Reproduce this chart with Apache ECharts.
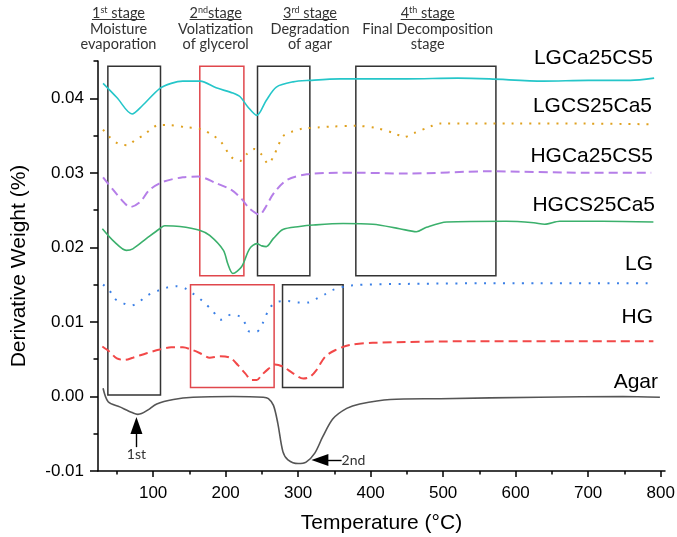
<!DOCTYPE html>
<html>
<head>
<meta charset="utf-8">
<script src="https://cdn.jsdelivr.net/npm/echarts@6/dist/echarts.min.js"></script>
<style>
  html, body { margin: 0; padding: 0; background: #fff; }
  #chart { width: 677px; height: 537px; }
</style>
</head>
<body>
<div id="chart"></div>
<script>
// DTG curves: [temperature (°C), derivative weight (%)]
const lgca25cs5 = [[31,0.0420],[50,0.0401],[71,0.0379],[85,0.0390],[109,0.0413],[125,0.0420],[141,0.0423],[165,0.0423],[187,0.0414],[210,0.0407],[220,0.0402],[231,0.0388],[243,0.0377],[256,0.0397],[270,0.0415],[293,0.0422],[316,0.0424],[358,0.0426],[450,0.0426],[520,0.0427],[564,0.0426],[638,0.0423],[700,0.0424],[758,0.0424],[791,0.0427]];
const lgcs25ca5 = [[31,0.0358],[40,0.0348],[52,0.0339],[65,0.0337],[75,0.0344],[86,0.0350],[108,0.0364],[121,0.0364],[146,0.0361],[165,0.0359],[183,0.0350],[194,0.0341],[208,0.0321],[220,0.0316],[229,0.0325],[240,0.0332],[250,0.0324],[259,0.0312],[266,0.0322],[272,0.0335],[279,0.0349],[291,0.0355],[305,0.0359],[330,0.0361],[344,0.0362],[380,0.0363],[408,0.0360],[433,0.0353],[446,0.0348],[459,0.0353],[482,0.0362],[495,0.0366],[600,0.0366],[700,0.0366],[791,0.0365]];
const hgca25cs5 = [[31,0.0294],[45,0.0277],[61,0.0259],[68,0.0254],[82,0.0261],[95,0.0277],[114,0.0288],[141,0.0294],[162,0.0295],[187,0.0286],[208,0.0277],[222,0.0265],[233,0.0252],[247,0.0244],[254,0.0252],[266,0.0272],[284,0.0290],[312,0.0298],[353,0.0300],[385,0.0300],[449,0.0299],[564,0.0302],[700,0.0300],[787,0.0300]];
const hgcs25ca5 = [[30,0.0225],[47,0.0207],[63,0.0196],[72,0.0198],[91,0.0212],[109,0.0225],[116,0.0229],[137,0.0228],[164,0.0223],[178,0.0216],[197,0.0196],[203,0.0178],[210,0.0165],[222,0.0174],[233,0.0198],[243,0.0205],[250,0.0202],[256,0.0201],[266,0.0212],[279,0.0224],[302,0.0228],[321,0.0230],[362,0.0232],[403,0.0231],[440,0.0225],[463,0.0221],[477,0.0227],[505,0.0234],[587,0.0235],[625,0.0233],[640,0.0231],[661,0.0235],[720,0.0235],[790,0.0234]];
const lg = [[31,0.0150],[40,0.0142],[47,0.0131],[59,0.0125],[70,0.0122],[82,0.0128],[93,0.0136],[107,0.0142],[119,0.0146],[132,0.0148],[144,0.0145],[155,0.0138],[167,0.0129],[181,0.0116],[194,0.0103],[208,0.0110],[220,0.0107],[227,0.0098],[233,0.0087],[243,0.0087],[251,0.0098],[261,0.0119],[272,0.0127],[286,0.0128],[300,0.0126],[314,0.0126],[325,0.0131],[337,0.0137],[348,0.0143],[374,0.0149],[450,0.0151],[600,0.0152],[787,0.0152]];
const hg = [[30,0.0067],[40,0.0060],[50,0.0051],[61,0.0049],[72,0.0052],[91,0.0058],[109,0.0063],[125,0.0066],[141,0.0066],[155,0.0062],[167,0.0057],[178,0.0052],[192,0.0054],[206,0.0052],[217,0.0042],[227,0.0031],[236,0.0022],[243,0.0022],[250,0.0029],[259,0.0037],[268,0.0043],[279,0.0040],[293,0.0031],[307,0.0024],[316,0.0026],[325,0.0035],[337,0.0053],[351,0.0062],[371,0.0069],[403,0.0072],[541,0.0074],[790,0.0074]];
const agar = [[31,0.0011],[38,-0.0007],[54,-0.0014],[72,-0.0022],[79,-0.0024],[84,-0.0023],[93,-0.0018],[105,-0.0010],[128,-0.0004],[155,-0.0001],[210,0.0000],[252,-0.0001],[259,-0.0003],[266,-0.0012],[272,-0.0036],[279,-0.0074],[286,-0.0085],[300,-0.0090],[311,-0.0088],[323,-0.0076],[334,-0.0054],[348,-0.0030],[367,-0.0016],[385,-0.0010],[427,-0.0004],[496,-0.0003],[633,-0.0001],[748,0.0000],[799,-0.0001]];

const seriesNames = ['LGCa25CS5', 'LGCS25Ca5', 'HGCa25CS5', 'HGCS25Ca5', 'LG', 'HG', 'Agar'];

// Axis ticks
const xMajorTicks = [100, 200, 300, 400, 500, 600, 700, 800];
const xMinorTicks = [50, 150, 250, 350, 450, 550, 650, 750];
const yMajorTicks = [-0.01, 0, 0.01, 0.02, 0.03, 0.04];
const yMinorTicks = [-0.005, 0.005, 0.015, 0.025, 0.035, 0.045];

// Stage boxes in data units: [T start, T end] and [upper, lower]
const boxTemps = [[37.6, 110.2], [164.4, 225.2], [244, 316.2], [379.6, 572.8], [151.6, 266.9], [278.5, 362.1]];
const boxValues = [[0.0443, 0.0002], [0.0443, 0.0162], [0.0443, 0.0162], [0.0443, 0.0162], [0.0150, 0.0012], [0.0150, 0.0012]];
const boxIsGlycerol = [false, true, false, false, true, false];

// Agar decomposition peak markers (arrow tail -> arrow head centre)
const peakNames = ['1st', '2nd'];
const peakArrowFrom = [[77, -0.0068], [360, -0.00854]];
const peakArrowTo = [[77, -0.0039], [330, -0.00854]];

// Stage headings
const stageNum = ['1', '2', '3', '4'];
const stageSup = ['st', 'nd', 'rd', 'th'];
const stageGap = [' ', '', ' ', ' '];
const stageDesc = [['Moisture', 'evaporation'], ['Volatization', 'of glycerol'], ['Degradation', 'of agar'], ['Final Decomposition', 'stage']];

// ---- styling / layout ----
const AXIS_FONT = 'Liberation Sans, Arial, sans-serif';
const NOTE_FONT = 'Lato, Carlito, sans-serif';
const colors = ['#25c6c9', '#dfa11f', '#b57ee8', '#3bb06c', '#3a7fe6', '#f24848', '#555555'];
const lineTypes = ['solid', [2, 7], [9, 5], 'solid', [2, 7.5], [9, 5], 'solid'];
const lineWidths = [1.6, 2, 2, 1.6, 2, 2, 1.6];
const labelPos = [[653, 58], [652, 106], [653, 156], [655, 205], [653, 264], [653, 317], [658, 382]];
const stageX = [118.5, 215.7, 310, 427.7];

const chart = echarts.init(document.getElementById('chart'), null, { renderer: 'canvas' });

const curves = [lgca25cs5, lgcs25ca5, hgca25cs5, hgcs25ca5, lg, hg, agar];

const series = curves.map((d, i) => ({
  name: seriesNames[i],
  type: 'line',
  data: d,
  smooth: 0.3,
  showSymbol: false,
  symbol: 'none',
  lineStyle: { color: colors[i], width: lineWidths[i], type: lineTypes[i], cap: 'butt' },
  z: 3
}));

// stage boxes drawn as outlined mark areas
series[6].markArea = {
  silent: true,
  z: 2,
  data: boxTemps.map((t, i) => [
    {
      coord: [t[0], boxValues[i][0]],
      itemStyle: { color: 'rgba(0,0,0,0)', borderColor: boxIsGlycerol[i] ? '#e0474c' : '#333333', borderWidth: 1.5 }
    },
    { coord: [t[1], boxValues[i][1]] }
  ])
};

// arrows pointing at the agar peaks
series[6].markLine = {
  silent: true,
  symbol: ['none', 'triangle'],
  symbolSize: [12, 17],
  lineStyle: { type: 'solid', color: '#000', width: 1.4 },
  label: { show: true, position: 'start', distance: 0, fontFamily: NOTE_FONT, fontSize: 14, color: '#333' },
  data: peakArrowFrom.map((from, i) => [
    { coord: from, label: { formatter: peakNames[i] } },
    { coord: peakArrowTo[i] }
  ])
};

// text measurement for underlines
const measureCtx = document.createElement('canvas').getContext('2d');
function textWidth(str, size) {
  measureCtx.font = size + 'px Lato';
  return measureCtx.measureText(str).width;
}

const graphics = [];
stageNum.forEach((n, i) => {
  graphics.push({
    type: 'text', x: stageX[i], y: 13,
    style: {
      text: '{b|' + n + '}{s|' + stageSup[i] + '}{b|' + stageGap[i] + 'stage}',
      rich: {
        b: { fontSize: 14.5, fontFamily: NOTE_FONT, fill: '#333' },
        s: { fontSize: 9, fontFamily: NOTE_FONT, fill: '#333', verticalAlign: 'top' }
      },
      align: 'center', verticalAlign: 'middle'
    }
  });
  const w = textWidth(n, 14.5) + textWidth(stageSup[i], 9) + textWidth(stageGap[i] + 'stage', 14.5);
  graphics.push({
    type: 'line',
    shape: { x1: stageX[i] - w / 2, y1: 19.5, x2: stageX[i] + w / 2, y2: 19.5 },
    style: { stroke: '#333', lineWidth: 1 }
  });
  stageDesc[i].forEach((line, k) => {
    graphics.push({
      type: 'text', x: stageX[i], y: 29 + k * 15.5,
      style: { text: line, fontSize: 14.5, fontFamily: NOTE_FONT, fill: '#333', align: 'center', verticalAlign: 'middle' }
    });
  });
});

seriesNames.forEach((name, i) => {
  graphics.push({
    type: 'text', x: labelPos[i][0], y: labelPos[i][1],
    style: { text: name, fontSize: 21, fontFamily: AXIS_FONT, fill: '#000', align: 'right', verticalAlign: 'middle' }
  });
});

const axisLineStyle = { color: '#000', width: 1.5 };

const option = {
  animation: false,
  backgroundColor: '#fff',
  grid: { left: 98, right: 12, top: 61, bottom: 66, outerBoundsMode: 'none', containLabel: false },
  xAxis: [
    {
      type: 'value', min: 24, max: 806,
      name: 'Temperature (°C)', nameLocation: 'middle', nameGap: 42,
      nameTextStyle: { fontSize: 21, fontFamily: AXIS_FONT, color: '#000' },
      axisLine: { onZero: false, lineStyle: axisLineStyle },
      axisTick: { show: true, customValues: xMajorTicks, length: 6, lineStyle: axisLineStyle },
      axisLabel: { customValues: xMajorTicks, fontSize: 17, fontFamily: AXIS_FONT, color: '#000', margin: 14 },
      splitLine: { show: false }
    },
    {
      type: 'value', min: 24, max: 806, position: 'bottom',
      axisLine: { show: false, onZero: false },
      axisTick: { show: true, customValues: xMinorTicks, length: 3.5, lineStyle: axisLineStyle },
      axisLabel: { show: false },
      splitLine: { show: false }
    }
  ],
  yAxis: [
    {
      type: 'value', min: -0.01, max: 0.045,
      name: 'Derivative Weight (%)', nameLocation: 'middle', nameGap: 68, nameRotate: 90,
      nameTextStyle: { fontSize: 21, fontFamily: AXIS_FONT, color: '#000' },
      axisLine: { show: true, onZero: false, lineStyle: axisLineStyle },
      axisTick: { show: true, customValues: yMajorTicks, length: 8, lineStyle: axisLineStyle },
      axisLabel: { customValues: yMajorTicks, fontSize: 17, fontFamily: AXIS_FONT, color: '#000', margin: 14,
        formatter: v => v.toFixed(2) },
      splitLine: { show: false }
    },
    {
      type: 'value', min: -0.01, max: 0.045, position: 'left',
      axisLine: { show: false, onZero: false },
      axisTick: { show: true, customValues: yMinorTicks, length: 4.5, lineStyle: axisLineStyle },
      axisLabel: { show: false },
      splitLine: { show: false }
    }
  ],
  series: series,
  graphic: graphics
};

chart.setOption(option);
</script>
</body>
</html>
